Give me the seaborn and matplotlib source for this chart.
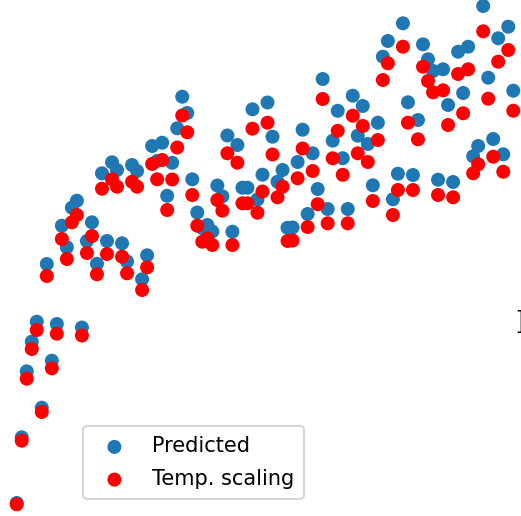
import matplotlib
matplotlib.use("Agg")
import matplotlib.pyplot as plt
import seaborn as sns
import pandas as pd

# sample index (evenly spaced samples)
sample_index = list(range(100))

predicted = [
    13, 78.7, 144.7, 174.3, 194.3, 108.3, 252, 155.3, 192, 290.3,
    268.7, 308.3, 315.3, 188.5, 275, 293.7, 252.2, 342.7, 275, 353.7,
    346, 272.7, 254.5, 351, 345, 236.7, 260.7, 370, 355, 373.3,
    320.2, 353.2, 387.7, 419.3, 403, 336.7, 303.5, 288, 291, 284.5,
    330.5, 319.7, 380.5, 284.3, 371, 328.3, 328.3, 406.7, 316.5, 341.3,
    413.5, 379.3, 334.3, 346, 288.2, 288.5, 354, 386.3, 302, 362.7,
    327, 437, 307, 375.3, 405.2, 357.8, 307, 420.3, 380.3, 410,
    372, 330.7, 393.3, 459.3, 475, 316.7, 342.3, 492.7, 413.7, 341,
    396, 471.7, 456.7, 445, 336.3, 446.7, 411, 334, 464.3, 423,
    469.3, 359.7, 370, 510, 438.3, 377, 477.7, 361.7, 489.3, 425.3,
]

temp_scaled = [
    11.7, 75.3, 137.3, 167, 186, 104, 240, 147.7, 182.3, 277,
    257, 293.7, 301, 180.5, 263, 280, 241.7, 327.3, 262, 336.7,
    329.3, 259.3, 242.7, 334.3, 329.3, 226, 248.7, 352, 336.7, 356,
    306, 336.5, 368.5, 400.5, 383.7, 321, 290.3, 274.3, 277.7, 271,
    316, 305.3, 362.7, 271, 353.3, 312.7, 312.7, 387.3, 303.3, 324.5,
    393.3, 361.5, 318.7, 329.3, 275, 275.5, 337.7, 367.5, 289, 345,
    311.8, 417, 292.7, 357.7, 385.2, 341.2, 292.7, 400.3, 362.7, 390,
    354, 315, 376, 436, 452.7, 301, 326, 469.3, 393.3, 326,
    376.7, 449.3, 435, 423.7, 321, 425.7, 391, 318.7, 442, 402.7,
    446.7, 342.7, 351.7, 484.7, 417.3, 359.3, 454.3, 344.3, 466, 405.3,
]

series_labels = ["Predicted", "Temp. scaling"]
series_colors = ["#1f77b4", "red"]

df_pred = pd.DataFrame({"x": sample_index, "y": predicted})
df_temp = pd.DataFrame({"x": sample_index, "y": temp_scaled})

fig = plt.figure(figsize=(521 / 150, 516 / 150), dpi=150)
ax = fig.add_axes([0, 0, 1, 1])

for df, lab, col in zip([df_pred, df_temp], series_labels, series_colors):
    sns.scatterplot(data=df, x="x", y="y", ax=ax, color=col, s=45,
                    linewidth=0, edgecolor="none", label=lab, legend=False)

ax.set_xlim(-3.33, 100.54)
ax.set_ylim(0, 516)
ax.axis("off")

ax.legend(loc="lower left", bbox_to_anchor=(0.16, 0.0324), borderaxespad=0,
          fontsize=10, labelspacing=0.61, borderpad=0.49)

fig.text(515.5 / 521, (516 - 333) / 516, "I", family="DejaVu Serif",
         fontsize=15, ha="left", va="baseline", color="black")

fig.savefig("out.png", dpi=150)
